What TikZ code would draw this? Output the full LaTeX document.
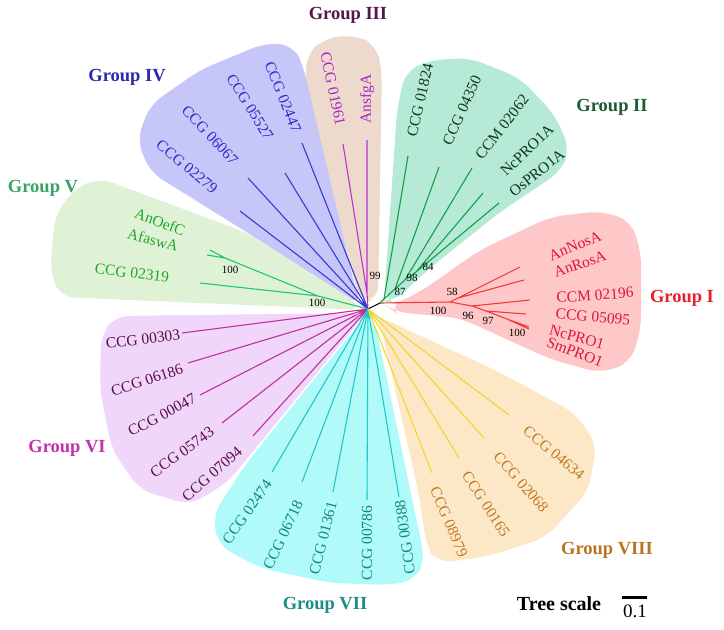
\documentclass[tikz,border=0pt]{standalone}
\usepackage{fontspec}
\setmainfont{Liberation Serif}
\definecolor{fI}{HTML}{FFC8C8}\definecolor{lI}{HTML}{F03A3A}\definecolor{tI}{HTML}{E0143C}\definecolor{gI}{HTML}{E8202A}
\definecolor{fII}{HTML}{B6EAD6}\definecolor{lII}{HTML}{12A046}\definecolor{tII}{HTML}{0C3A1E}\definecolor{gII}{HTML}{1C5A32}
\definecolor{fIII}{HTML}{EED9CD}\definecolor{lIII}{HTML}{B436D2}\definecolor{tIII}{HTML}{A624C8}\definecolor{gIII}{HTML}{561848}
\definecolor{fIV}{HTML}{C6C6F8}\definecolor{lIV}{HTML}{3A3AD0}\definecolor{tIV}{HTML}{2C2CCC}\definecolor{gIV}{HTML}{2A2AA8}
\definecolor{fV}{HTML}{E0F2D6}\definecolor{lV}{HTML}{22C46E}\definecolor{tV}{HTML}{22A626}\definecolor{gV}{HTML}{34A466}
\definecolor{fVI}{HTML}{F0D6F8}\definecolor{lVI}{HTML}{C0309E}\definecolor{tVI}{HTML}{5C0C4C}\definecolor{gVI}{HTML}{C232A8}
\definecolor{fVII}{HTML}{B0FAFA}\definecolor{lVII}{HTML}{22C8C8}\definecolor{tVII}{HTML}{12887E}\definecolor{gVII}{HTML}{1E8C86}
\definecolor{fVIII}{HTML}{FCE8C6}\definecolor{lVIII}{HTML}{EED82E}\definecolor{tVIII}{HTML}{C07A22}\definecolor{gVIII}{HTML}{B8741E}
\begin{document}
\begin{tikzpicture}[x=1pt,y=-1pt,
  leaf/.style={font=\fontsize{15.5}{15.5}\selectfont, inner sep=0pt},
  grp/.style={font=\fontsize{18.5}{18.5}\selectfont\bfseries, inner sep=0pt},
  bs/.style={font=\fontsize{11}{11}\selectfont, inner sep=0pt},
  br/.style={line width=1.1pt},
  region/.style={rounded corners=14pt}]
\useasboundingbox (0,0) rectangle (724,630);
% regions
\fill[fI,region] (388,307) -- (420,292) -- (480,250) -- (550,217) -- (600,211) -- (630,220) -- (641,250) -- (641,330) -- (630,363) -- (600,373) -- (550,359) -- (460,318) -- (395,312) -- cycle;
\fill[fII,region] (384,301) -- (397,110) -- (405,72) -- (430,60) -- (470,58) -- (520,78) -- (555,115) -- (570,150) -- (560,172) -- (500,212) -- (430,268) -- (392,303) -- cycle;
\fill[fIII,region] (360,302) -- (306,90) -- (306,55) -- (325,38) -- (355,35) -- (376,45) -- (382,70) -- (378,300) -- cycle;
\fill[fIV,region] (362,306) -- (240,228) -- (150,172) -- (137,140) -- (150,105) -- (200,70) -- (265,43) -- (293,45) -- (303,65) -- (357,295) -- cycle;
\fill[fV,region] (363,310) -- (60,297) -- (50,270) -- (55,215) -- (75,188) -- (100,178) -- (245,232) -- (358,303) -- cycle;
\fill[fVI,region] (364,313) -- (115,316) -- (101,335) -- (100,390) -- (112,450) -- (140,490) -- (190,505) -- (228,482) -- (362,318) -- cycle;
\fill[fVII,region] (365,316) -- (245,465) -- (213,515) -- (218,545) -- (260,568) -- (330,583) -- (390,585) -- (415,580) -- (425,560) -- (374,318) -- cycle;
\fill[fVIII,region] (373,314) -- (495,370) -- (575,413) -- (597,445) -- (588,492) -- (545,538) -- (485,557) -- (438,563) -- (427,548) -- (418,490) -- (379,318) -- cycle;
% coordinates
\coordinate (R) at (368,309); \coordinate (S) at (380,303);
\coordinate (nA) at (450,302); \coordinate (nB) at (458,298); \coordinate (nC) at (472,306);
\coordinate (nD) at (486,311); \coordinate (nE) at (507,319);
\coordinate (t11) at (520,267); \coordinate (t12) at (524,280); \coordinate (t13) at (530,300);
\coordinate (t14) at (526,314); \coordinate (t15) at (529,327); \coordinate (t16) at (529,329);
\coordinate (n87) at (384,299); \coordinate (n98) at (395,289); \coordinate (n84) at (405,280); \coordinate (nNO) at (416,272);
\coordinate (t21) at (408,156); \coordinate (t22) at (439,167); \coordinate (t23) at (472,168);
\coordinate (t24) at (483,193); \coordinate (t25) at (499,203);
\coordinate (n99) at (367,293); \coordinate (t31) at (343,144); \coordinate (t32) at (367,140);
\coordinate (t41) at (302,143); \coordinate (t42) at (285,173); \coordinate (t43) at (248,178); \coordinate (t44) at (240,211);
\coordinate (nV1) at (318,296); \coordinate (nV2) at (225,258);
\coordinate (t51) at (210,250); \coordinate (t52) at (207,255); \coordinate (t53) at (200,283);
\coordinate (t61) at (182,333); \coordinate (t62) at (188,363); \coordinate (t63) at (200,395); \coordinate (t64) at (222,423); \coordinate (t65) at (253,436);
\coordinate (t71) at (272,472); \coordinate (t72) at (302,482); \coordinate (t73) at (333,492); \coordinate (t74) at (367,500); \coordinate (t75) at (399,497);
\coordinate (t81) at (509,415); \coordinate (t82) at (484,438); \coordinate (t83) at (459,458); \coordinate (t84) at (432,473);
% branches
\draw[br,black] (R) -- (S);
\draw[br,lI] (S) -- (nA) (nA) -- (nB) (nB) -- (t11) (nB) -- (t12) (nA) -- (nC) (nC) -- (t13) (nC) -- (nD) (nD) -- (t14) (nD) -- (nE) (nE) -- (t15) (nE) -- (t16);
\draw[br,lII] (S) -- (n87) (n87) -- (t21) (n87) -- (n98) (n98) -- (t22) (n98) -- (n84) (n84) -- (t23) (n84) -- (nNO) (nNO) -- (t24) (nNO) -- (t25);
\draw[br,lIII] (R) -- (n99) (n99) -- (t31) (n99) -- (t32);
\draw[br,lIV] (R) -- (t41) (R) -- (t42) (R) -- (t43) (R) -- (t44);
\draw[br,lV] (R) -- (nV1) (nV1) -- (t53) (nV1) -- (nV2) (nV2) -- (t51) (nV2) -- (t52);
\draw[br,lVI] (R) -- (t61) (R) -- (t62) (R) -- (t63) (R) -- (t64) (R) -- (t65);
\draw[br,lVII] (R) -- (t71) (R) -- (t72) (R) -- (t73) (R) -- (t74) (R) -- (t75);
\draw[br,lVIII] (R) -- (t81) (R) -- (t82) (R) -- (t83) (R) -- (t84);
% leaf labels
\node[leaf,text=tI,rotate=22] (L11) at (575,246) {AnNosA};
\node[leaf,text=tI,rotate=19] (L12) at (580,264) {AnRosA};
\node[leaf,text=tI,rotate=4] (L13) at (595,295) {CCM 02196};
\node[leaf,text=tI,rotate=-5] (L14) at (593,317) {CCG 05095};
\node[leaf,text=tI,rotate=-15] (L15) at (577,337) {NcPRO1};
\node[leaf,text=tI,rotate=-21] (L16) at (575,352) {SmPRO1};
\node[leaf,text=tII,rotate=77] (L21) at (420,100) {CCG 01824};
\node[leaf,text=tII,rotate=66] (L22) at (462,110) {CCG 04350};
\node[leaf,text=tII,rotate=52] (L23) at (502,127) {CCM 02062};
\node[leaf,text=tII,rotate=44] (L24) at (527,150) {NcPRO1A};
\node[leaf,text=tII,rotate=39] (L25) at (537,173) {OsPRO1A};
\node[leaf,text=tIII,rotate=-78] (L31) at (333,89) {CCG 01961};
\node[leaf,text=tIII,rotate=90] (L32) at (367,99) {AnsfgA};
\node[leaf,text=tIV,rotate=-68] (L41) at (283,97) {CCG 02447};
\node[leaf,text=tIV,rotate=-58] (L42) at (250,107) {CCG 05527};
\node[leaf,text=tIV,rotate=-47] (L43) at (210,135) {CCG 06067};
\node[leaf,text=tIV,rotate=-40] (L44) at (187,167) {CCG 02279};
\node[leaf,text=tV,rotate=-21] (L51) at (160,222) {AnOefC};
\node[leaf,text=tV,rotate=-14] (L52) at (153,240) {AfaswA};
\node[leaf,text=tV,rotate=-7] (L53) at (132,273) {CCG 02319};
\node[leaf,text=tVI,rotate=7] (L61) at (143,339) {CCG 00303};
\node[leaf,text=tVI,rotate=18] (L62) at (147,380) {CCG 06186};
\node[leaf,text=tVI,rotate=28] (L63) at (162,415) {CCG 00047};
\node[leaf,text=tVI,rotate=36] (L64) at (182,452) {CCG 05743};
\node[leaf,text=tVI,rotate=42] (L65) at (212,474) {CCG 07094};
\node[leaf,text=tVII,rotate=55] (L71) at (247,512) {CCG 02474};
\node[leaf,text=tVII,rotate=65] (L72) at (283,535) {CCG 06718};
\node[leaf,text=tVII,rotate=76] (L73) at (323,538) {CCG 01361};
\node[leaf,text=tVII,rotate=90] (L74) at (367,543) {CCG 00786};
\node[leaf,text=tVII,rotate=98] (L75) at (405,537) {CCG 00388};
\node[leaf,text=tVIII,rotate=-40] (L81) at (554,453) {CCG 04634};
\node[leaf,text=tVIII,rotate=-49] (L82) at (521,482) {CCG 02068};
\node[leaf,text=tVIII,rotate=-57] (L83) at (486,504) {CCG 00165};
\node[leaf,text=tVIII,rotate=-67] (L84) at (449,522) {CCG 08979};
% bootstrap values
\node[bs] (b99) at (375,276) {99};
\node[bs] (b87) at (400,292) {87};
\node[bs] (b98) at (412,278) {98};
\node[bs] (b84) at (428,267) {84};
\node[bs] (b58) at (452,292) {58};
\node[bs] (b100a) at (438,311) {100};
\node[bs] (b96) at (468,316) {96};
\node[bs] (b97) at (488,321) {97};
\node[bs] (b100b) at (517,333) {100};
\node[bs] (b100c) at (230,270) {100};
\node[bs] (b100d) at (317,303) {100};
% group labels
\node[grp,text=gI] (GI) at (682,298) {Group I};
\node[grp,text=gII] (GII) at (612,107) {Group II};
\node[grp,text=gIII] (GIII) at (348,15) {Group III};
\node[grp,text=gIV] (GIV) at (127,77) {Group IV};
\node[grp,text=gV] (GV) at (43,188) {Group V};
\node[grp,text=gVI] (GVI) at (67,448) {Group VI};
\node[grp,text=gVII] (GVII) at (325,605) {Group VII};
\node[grp,text=gVIII] (GVIII) at (607,550) {Group VIII};
% scale
\node[font=\fontsize{20}{20}\selectfont\bfseries, inner sep=0pt] (ts) at (559,604) {Tree scale};
\coordinate (sb1) at (622,597); \coordinate (sb2) at (647,597);
\draw[line width=3pt] (sb1) -- (sb2);
\node[font=\fontsize{19}{19}\selectfont, inner sep=0pt] (sc) at (635,611) {0.1};
\end{tikzpicture}
\end{document}
